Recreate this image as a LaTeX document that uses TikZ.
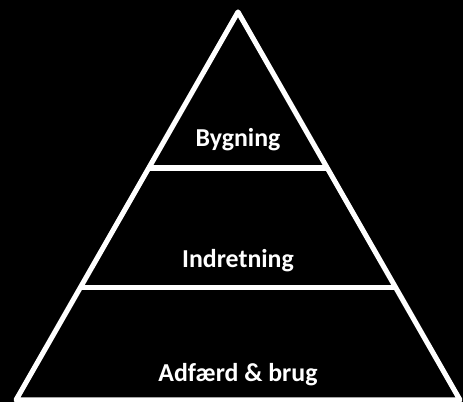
\documentclass[tikz,border=0pt]{standalone}
\usepackage{fontspec}
\setmainfont{Carlito}
\usepackage{tikz}
\usetikzlibrary{calc}
\usepackage{tkz-euclide}

\tikzset{
  layerline/.style={white, line width=2.9pt, line join=round},
  layertext/.style={white, font=\fontsize{14.7}{17}\selectfont\bfseries, anchor=base}
}

\begin{document}
\begin{tikzpicture}
                \fill[black] (0,0) rectangle (9.26,8.04);
                \useasboundingbox (0,0) rectangle (9.26,8.04);
                \tkzDefPoints{4.76/7.80/A, 0.32/0.04/B, 9.20/0.04/C}
                \tkzDefPointOnLine[pos=0.598](B,A) \tkzGetPoint{P}
                \tkzDefPointOnLine[pos=0.598](C,A) \tkzGetPoint{Q}
                \tkzDefPointOnLine[pos=0.289](B,A) \tkzGetPoint{R}
                \tkzDefPointOnLine[pos=0.289](C,A) \tkzGetPoint{S}
                \draw[layerline] (A) -- (B) -- (C) -- cycle;
                \draw[layerline] (P) -- (Q);
                \draw[layerline] (R) -- (S);
                \node[layertext] (top) at (4.76,5.12) {Bygning};
                \node[layertext] (mid) at (4.76,2.70) {Indretning};
                \node[layertext] (low) at (4.76,0.41) {Adfærd \& brug};
            \end{tikzpicture}
\end{document}
